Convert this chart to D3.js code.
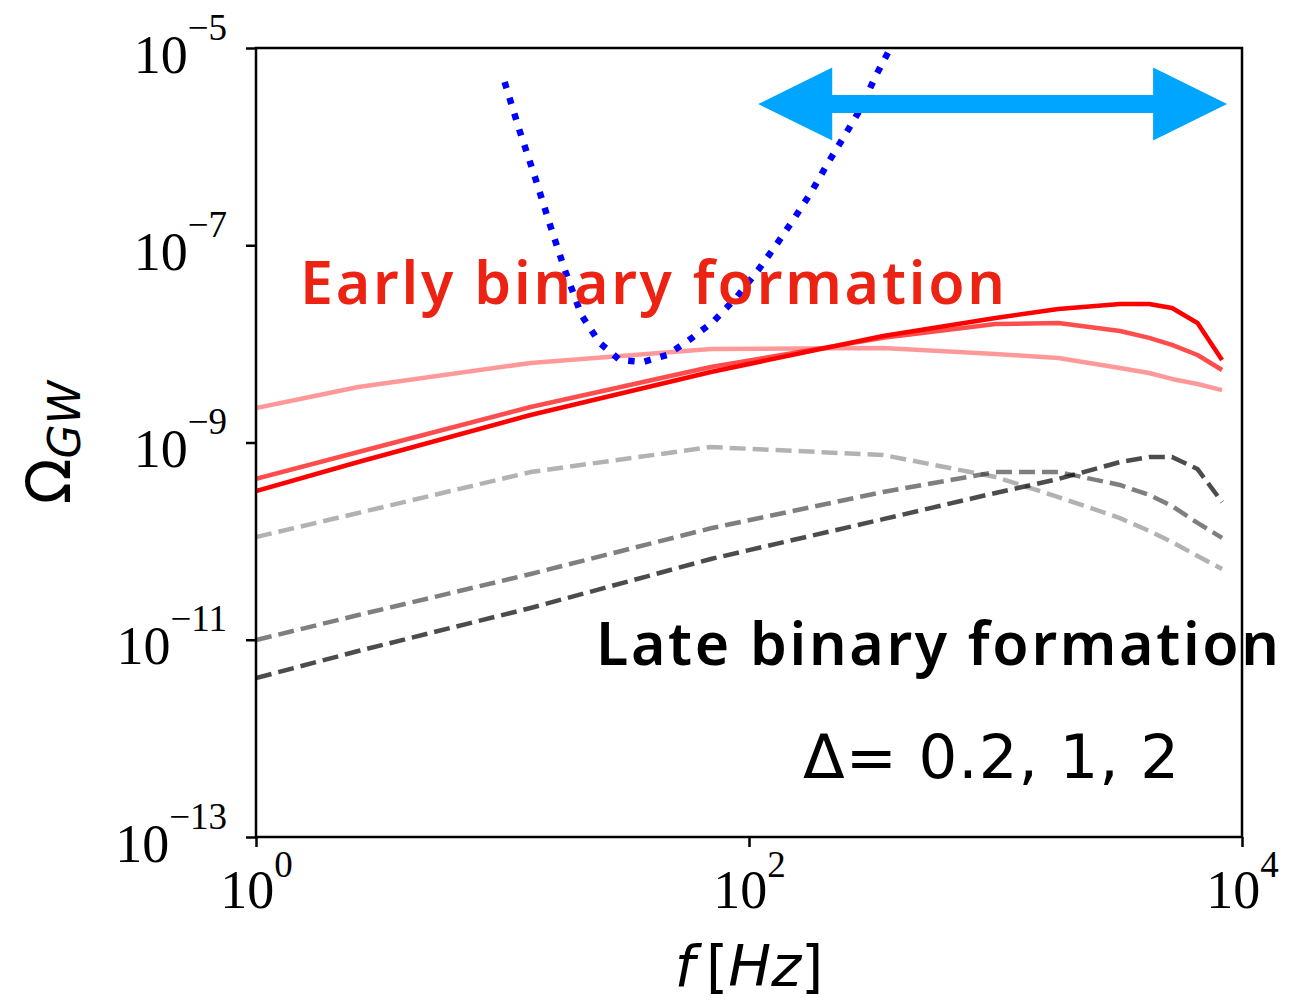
<!DOCTYPE html>
<html>
<head>
<meta charset="utf-8">
<title>Omega_GW</title>
<script src="https://cdn.jsdelivr.net/npm/d3@7"></script>
<style>
  html, body { margin: 0; padding: 0; background: #fff; }
</style>
</head>
<body>
<script>
// frequency grid shared by the six model curves [Hz]
var freq = [1, 2.6, 13, 70, 350, 1000, 1800, 3200, 4200, 5200, 6600, 8300];

// early binary formation (solid red), Delta = 0.2, 1, 2
var early02 = [2.24e-9, 3.66e-9, 6.40e-9, 8.87e-9, 9.08e-9, 7.89e-9, 7.19e-9, 5.69e-9, 5.07e-9, 4.41e-9, 3.92e-9, 3.40e-9];
var early1  = [4.27e-10, 8.01e-10, 2.29e-9, 5.83e-9, 1.15e-8, 1.59e-8, 1.63e-8, 1.35e-8, 1.15e-8, 9.75e-9, 7.71e-9, 5.43e-9];
var early2  = [3.22e-10, 6.34e-10, 1.90e-9, 5.19e-9, 1.20e-8, 1.83e-8, 2.26e-8, 2.54e-8, 2.54e-8, 2.31e-8, 1.63e-8, 6.87e-9];

// late binary formation (dashed grey), Delta = 0.2, 1, 2
var late02 = [1.10e-10, 1.93e-10, 5.02e-10, 9.00e-10, 7.47e-10, 4.47e-10, 2.80e-10, 1.71e-10, 1.27e-10, 9.80e-11, 7.06e-11, 5.21e-11];
var late1  = [9.93e-12, 1.78e-11, 4.64e-11, 1.35e-10, 3.15e-10, 5.02e-10, 5.02e-10, 3.71e-10, 2.94e-10, 2.27e-10, 1.53e-10, 1.08e-10];
var late2  = [4.09e-12, 7.69e-12, 2.10e-11, 6.59e-11, 1.67e-10, 3.08e-10, 4.27e-10, 6.34e-10, 7.13e-10, 7.13e-10, 5.38e-10, 2.49e-10];

// detector sensitivity curve (blue dotted)
var sensFreq  = [10.2, 11.7, 13.5, 15.5, 17.9, 20.9, 24.8, 29.9, 37.1, 46.5, 56.5, 71.4, 89.3, 109, 128, 151, 179, 209, 245, 285, 325, 371];
var sensOmega = [4.52e-6, 1.48e-6, 5.04e-7, 1.68e-7, 5.61e-8, 1.96e-8, 1.02e-8, 6.87e-9, 6.55e-9, 7.71e-9, 1.07e-8, 1.67e-8,
                 2.99e-8, 5.61e-8, 9.82e-8, 1.80e-7, 3.47e-7, 6.82e-7, 1.31e-6, 2.47e-6, 5.08e-6, 9.55e-6];

// double arrow (frequency band) and ticks
var arrowFreq = [109, 8700];
var arrowOmega = 2.7e-6;
var xTicks = [1, 100, 10000];
var xTickExp = ["0", "2", "4"];
var yTicks = [1e-5, 1e-7, 1e-9, 1e-11, 1e-13];
var yTickExp = ["\u22125", "\u22127", "\u22129", "\u221211", "\u221213"];
var deltas = ["0.2", "1", "2"];

var width = 1310, height = 1002;
var L = 256, R = 1242, T = 48, B = 837;

var svg = d3.select("body").append("svg")
    .attr("width", width)
    .attr("height", height);

var x = d3.scaleLog().domain([1, 1e4]).range([L, R]);
var y = d3.scaleLog().domain([1e-13, 1e-5]).range([B, T]);

svg.append("defs").append("clipPath").attr("id", "plotclip")
  .append("rect").attr("x", L).attr("y", T).attr("width", R - L).attr("height", B - T);

var line = d3.line()
    .x(function(d){ return x(d[0]); })
    .y(function(d){ return y(d[1]); });

var plot = svg.append("g").attr("clip-path", "url(#plotclip)");

// late curves, dashed
var lateSets = [[late02, 0.3], [late1, 0.5], [late2, 0.7]];
lateSets.forEach(function(s){
  plot.append("path")
    .attr("d", line(d3.zip(freq, s[0])))
    .attr("fill", "none")
    .attr("stroke", "#000")
    .attr("stroke-opacity", s[1])
    .attr("stroke-width", 4.5)
    .attr("stroke-dasharray", "16,7");
});

// early curves, solid
var earlySets = [[early02, 0.4], [early1, 0.7], [early2, 1.0]];
earlySets.forEach(function(s){
  plot.append("path")
    .attr("d", line(d3.zip(freq, s[0])))
    .attr("fill", "none")
    .attr("stroke", "#ff0000")
    .attr("stroke-opacity", s[1])
    .attr("stroke-width", 4.5)
    .attr("stroke-linejoin", "round");
});

// sensitivity curve
plot.append("path")
  .attr("d", line(d3.zip(sensFreq, sensOmega)))
  .attr("fill", "none")
  .attr("stroke", "#0000ff")
  .attr("stroke-width", 6.5)
  .attr("stroke-dasharray", "6.5,10");

// double headed arrow
var ax1 = x(arrowFreq[0]), ax2 = x(arrowFreq[1]), ay = y(arrowOmega);
var hl = 74, hw = 36.5, sw = 9;
var pts = [
  [ax1, ay], [ax1 + hl, ay - hw], [ax1 + hl, ay - sw], [ax2 - hl, ay - sw], [ax2 - hl, ay - hw],
  [ax2, ay], [ax2 - hl, ay + hw], [ax2 - hl, ay + sw], [ax1 + hl, ay + sw], [ax1 + hl, ay + hw]
];
svg.append("polygon")
  .attr("points", pts.map(function(p){ return p.join(","); }).join(" "))
  .attr("fill", "#00a5ff");

// axes
var yAxis = d3.axisLeft(y).tickValues(yTicks).tickSize(10).tickSizeOuter(0).tickFormat(function(){ return ""; });
var xAxis = d3.axisBottom(x).tickValues(xTicks).tickSize(10).tickSizeOuter(0).tickFormat(function(){ return ""; });

var gy = svg.append("g").attr("transform", "translate(" + L + ",0)").call(yAxis);
var gx = svg.append("g").attr("transform", "translate(0," + B + ")").call(xAxis);
[gx, gy].forEach(function(g){
  g.select(".domain").remove();
  g.selectAll(".tick line").attr("stroke", "#000").attr("stroke-width", 2.5);
});

gy.selectAll(".tick text")
  .attr("x", -29).attr("y", 24).attr("dy", null)
  .attr("text-anchor", "end")
  .attr("font-family", "'Liberation Serif', 'Times New Roman', serif")
  .attr("font-size", 54).attr("fill", "#000")
  .each(function(d, i){
    var t = d3.select(this);
    t.append("tspan").text("10");
    t.append("tspan").attr("dy", -33).attr("font-size", 37).text(yTickExp[i]);
  });

gx.selectAll(".tick text")
  .attr("y", 71).attr("dy", null)
  .attr("text-anchor", "middle")
  .attr("font-family", "'Liberation Serif', 'Times New Roman', serif")
  .attr("font-size", 54).attr("fill", "#000")
  .each(function(d, i){
    var t = d3.select(this);
    t.append("tspan").text("10");
    t.append("tspan").attr("dy", -31).attr("font-size", 37).text(xTickExp[i]);
  });

// frame
svg.append("rect")
  .attr("x", L).attr("y", T).attr("width", R - L).attr("height", B - T)
  .attr("fill", "none").attr("stroke", "#000").attr("stroke-width", 2.5);

// axis labels
var xl = svg.append("text")
  .attr("x", (L + R) / 2).attr("y", 986)
  .attr("text-anchor", "middle")
  .attr("font-family", "'DejaVu Sans', sans-serif")
  .attr("font-size", 57).attr("fill", "#000");
xl.append("tspan").attr("font-style", "italic").text("f");
xl.append("tspan").text("\u2009[");
xl.append("tspan").attr("font-style", "italic").text("Hz");
xl.append("tspan").text("]");

var yl = svg.append("text")
  .attr("transform", "translate(70," + (T + B) / 2 + ") rotate(-90)")
  .attr("text-anchor", "middle")
  .attr("font-family", "'DejaVu Sans', sans-serif")
  .attr("font-size", 60).attr("fill", "#000");
yl.append("tspan").text("\u03a9");
yl.append("tspan").attr("dy", 10).attr("font-size", 44).attr("font-style", "italic").text("GW");

// annotations
svg.append("text")
  .attr("x", 300).attr("y", 304)
  .attr("font-family", "'Noto Sans', sans-serif")
  .attr("font-weight", 600)
  .attr("font-size", 59)
  .attr("fill", "#ec2212")
  .attr("textLength", 705).attr("lengthAdjust", "spacing")
  .text("Early binary formation");

svg.append("text")
  .attr("x", 596).attr("y", 665)
  .attr("font-family", "'Noto Sans', sans-serif")
  .attr("font-weight", 600)
  .attr("font-size", 59)
  .attr("fill", "#000")
  .attr("textLength", 683).attr("lengthAdjust", "spacing")
  .text("Late binary formation");

svg.append("text")
  .attr("x", 803).attr("y", 778)
  .attr("font-family", "'DejaVu Sans', sans-serif")
  .attr("font-size", 61)
  .attr("fill", "#000")
  .attr("textLength", 376).attr("lengthAdjust", "spacing")
  .text("\u0394= " + deltas.join(", "));
</script>
</body>
</html>
